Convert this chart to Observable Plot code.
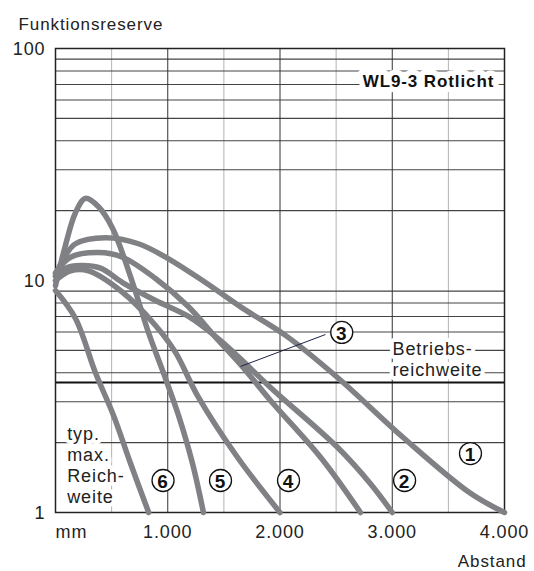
<!DOCTYPE html>
<html>
<head>
<meta charset="utf-8">
<script src="https://cdn.jsdelivr.net/npm/d3@7"></script>
<script src="https://cdn.jsdelivr.net/npm/@observablehq/plot@0.6"></script>
<style>
  html, body { margin: 0; padding: 0; background: #fff; }
  #chart svg { display: block; letter-spacing: 0.9px; }
</style>
</head>
<body>
<div id="chart"></div>
<script>
// ---- data (distance in mm, Funktionsreserve) ----
const curve1 = [[0,10.6],[80,12.6],[178,14.4],[445,15.3],[739,14.4],[1007,12.4],[1336,9.8],[1666,7.6],[2049,5.8],[2512,3.82],[3100,2.1],[3697,1.21],[4000,1]];
const curve2 = [[0,10.4],[89,11.3],[223,11.6],[401,11.3],[597,9.8],[891,8.2],[1185,7.0],[1470,5.51],[1648,4.6],[1915,3.46],[2512,1.91],[2806,1.33],[3000,1]];
const curve3 = [[0,10.8],[134,12.6],[383,13.2],[597,12.6],[891,10.2],[1185,7.7],[1425,5.7],[1648,4.35],[1915,3.04],[2361,1.73],[2717,1]];
const curve4 = [[0,10],[134,11.0],[294,11.0],[597,8.9],[891,6.4],[1069,4.9],[1265,3.19],[1621,1.73],[2000,1]];
const curve5 = [[0,9.5],[89,14.2],[178,19.6],[267,22.6],[383,20.8],[508,16.8],[686,9.8],[828,5.97],[980,3.78],[1096,2.62],[1220,1.63],[1318,1]];
const curve6 = [[0,9.05],[178,6.86],[356,4.0],[517,2.62],[668,1.63],[830,1]];

const curveNames = ["1","2","3","4","5","6"];
const curveData = [curve1, curve2, curve3, curve4, curve5, curve6];

const betriebsreichweite = 3.63;

// ticks & grid
const xTicks = [1000, 2000, 3000, 4000];
const xTickLabels = ["1.000", "2.000", "3.000", "4.000"];
const xMajor = [1000, 2000, 3000];
const xMinor = [500, 1500, 2500, 3500];
const yTicks = [1, 10, 100];
const yGrid = [2,3,4,5,6,7,8,9,20,30,40,50,60,70,80,90];

// curve number labels (mm, value)
const numLabels = [
  {n: "1", x: 3697, y: 1.795},
  {n: "2", x: 3110, y: 1.374},
  {n: "3", x: 2550, y: 5.97},
  {n: "4", x: 2076, y: 1.374},
  {n: "5", x: 1470, y: 1.374},
  {n: "6", x: 958,  y: 1.374}
];
const leader3 = [{x1: 1648, y1: 4.26, x2: 2405, y2: 5.85}];

const textNotes = [
  {t: "Betriebs-\nreichweite", x: 3002, y: 4.59},
  {t: "typ.\nmax.\nReich-\nweite", x: 104, y: 1.61}
];
const titleNote = [{t: "WL9-3 Rotlicht", x: 3323, y: 72.2}];

const rows = curveData.flatMap((c, i) => c.map(([x, y]) => ({curve: curveNames[i], x, y})));

const font = "'Liberation Sans', Arial, sans-serif";

const chart = Plot.plot({
  width: 534,
  height: 571,
  marginLeft: 55,
  marginRight: 30,
  marginTop: 48,
  marginBottom: 59,
  style: {fontFamily: font, fontSize: "18px", color: "#222", background: "#fff"},
  x: {domain: [0, 4000], axis: null},
  y: {type: "log", domain: [1, 100], axis: null},
  marks: [
    Plot.ruleX(xMinor, {stroke: "#b3b3b3", strokeWidth: 1}),
    Plot.ruleY(yGrid, {stroke: "#444", strokeWidth: 1.1}),
    Plot.ruleX(xMajor, {stroke: "#333", strokeWidth: 1}),
    Plot.ruleY([betriebsreichweite], {stroke: "#111", strokeWidth: 2}),
    Plot.frame({stroke: "#222", strokeWidth: 1.5}),
    // tick labels
    Plot.text(xTicks, {x: d => d, y: () => 1, text: (d, i) => xTickLabels[i], dy: 20, fill: "#222"}),
    Plot.text(["mm"], {x: () => 0, y: () => 1, text: d => d, dy: 20, textAnchor: "start", fill: "#222"}),
    Plot.text(yTicks, {x: () => 0, y: d => d, text: d => String(d), dx: -10, dy: 1, textAnchor: "end", fill: "#222"}),
    Plot.text(["Funktionsreserve"], {frameAnchor: "top-left", lineAnchor: "middle", text: d => d, dx: -37, dy: -24, textAnchor: "start", fill: "#222", fontSize: 17}),
    Plot.text(["Abstand"], {frameAnchor: "bottom-right", lineAnchor: "middle", text: d => d, dx: 22, dy: 49, textAnchor: "end", fill: "#222", fontSize: 17}),
    // curves
    Plot.line(rows, {x: "x", y: "y", z: "curve", curve: "catmull-rom", stroke: "#808184", strokeWidth: 5.5, strokeLinecap: "round", strokeLinejoin: "round"}),
    // notes
    Plot.text(textNotes, {x: "x", y: "y", text: "t", textAnchor: "start", lineHeight: 1.17, fill: "#222", stroke: "white", strokeWidth: 8, paintOrder: "stroke"}),
    Plot.text(titleNote, {x: "x", y: "y", text: "t", fontWeight: "bold", fill: "#111", stroke: "white", strokeWidth: 11, paintOrder: "stroke", fontSize: 17}),
    Plot.link(leader3, {x1: "x1", y1: "y1", x2: "x2", y2: "y2", stroke: "#1c2346", strokeWidth: 1}),
    Plot.dot(numLabels, {x: "x", y: "y", r: 11, fill: "white", stroke: "#111", strokeWidth: 1.3}),
    Plot.text(numLabels, {x: "x", y: "y", text: "n", fontWeight: "bold", fontSize: 19, fill: "#111", dy: 1})
  ]
});

document.getElementById("chart").appendChild(chart);
</script>
</body>
</html>
